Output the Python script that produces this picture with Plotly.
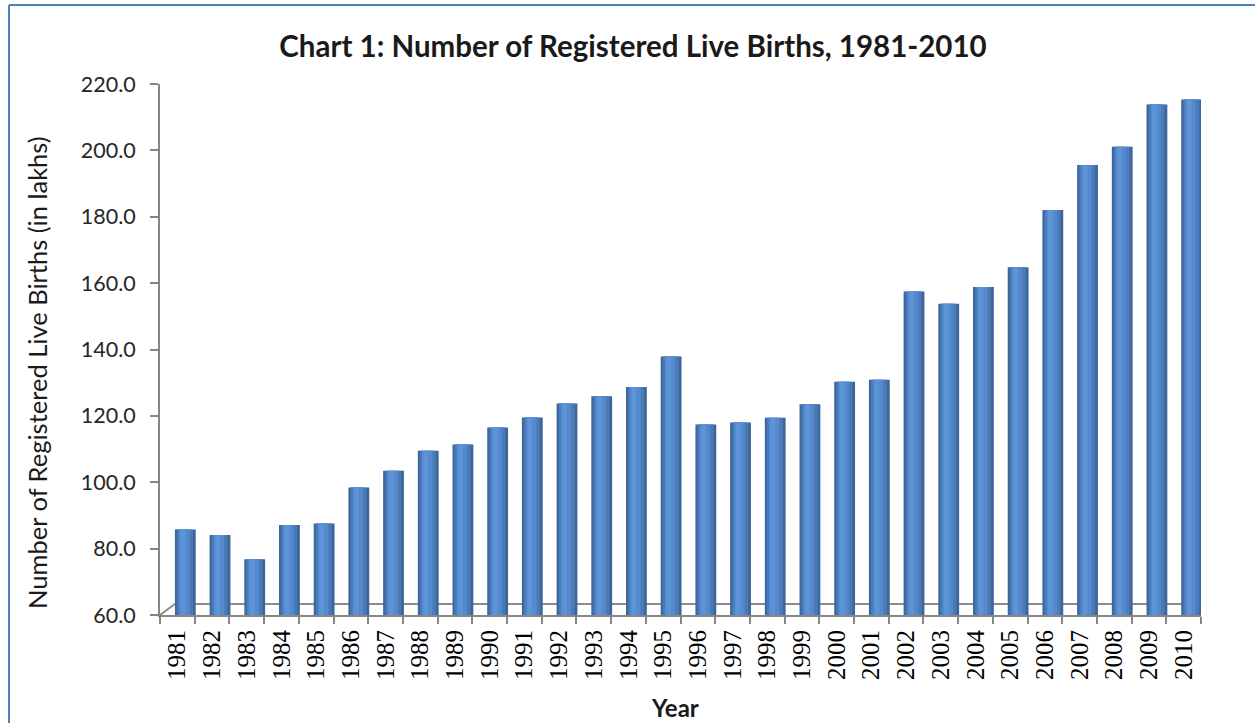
import plotly.graph_objects as go

years = [str(y) for y in range(1981, 2011)]
births = [85.8, 84.1, 76.8, 87.1, 87.6, 98.4, 103.5, 109.5, 111.4, 116.5,
          119.5, 123.7, 125.9, 128.7, 137.9, 117.4, 118.0, 119.4, 123.5, 130.3,
          130.9, 157.5, 153.8, 158.8, 164.8, 182.0, 195.6, 201.1, 213.8, 215.3]

title_text = "Chart 1: Number of Registered Live Births, 1981-2010"
y_title = "Number of Registered Live Births (in lakhs)"
x_title = "Year"

W, H = 1255, 723
L, R, T, B = 160, 54, 84, 108
pw, ph = W - L - R, H - T - B

def px_x(px):
    return (px - L) / pw

def px_y(py):
    return (H - B - py) / ph

fig = go.Figure()
# cylinder-like shading with layered bars of the same values
layers = [
    (0.60, -0.07, "#3D679B"),
    (0.46, -0.01, "#4A7AB8"),
    (0.30, 0.05, "#548ACD"),
    (0.14, 0.09, "#5D94D8"),
]
for w, off, col in layers:
    fig.add_trace(go.Bar(
        x=years, y=births, width=w, offset=off,
        marker=dict(color=col, line=dict(width=0)),
        showlegend=False, hoverinfo="x+y",
    ))

axis_grey = "#868686"
fig.update_layout(
    width=W, height=H,
    margin=dict(l=L, r=R, t=T, b=B, autoexpand=False),
    paper_bgcolor="white", plot_bgcolor="white",
    barmode="overlay",
    title=dict(text=title_text, x=633 / W, xanchor="center", y=1 - 47 / H, yanchor="middle",
               font=dict(family="Lato", size=29.5, color="#1a1a1a", weight="bold")),
    yaxis=dict(range=[60, 220], dtick=20, tickformat=".1f", showgrid=False, zeroline=False,
               showline=True, linecolor=axis_grey, linewidth=2,
               ticks="outside", ticklen=8, tickcolor=axis_grey, tickwidth=2,
               ticklabelstandoff=10,
               tickfont=dict(family="Lato", size=21.5, color="#262626")),
    xaxis=dict(type="category", range=[-0.5, 29.5], showgrid=False, zeroline=False,
               showline=True, linecolor=axis_grey, linewidth=2,
               ticks="outside", ticklen=7, tickcolor=axis_grey, tickwidth=2,
               tickson="boundaries", tickangle=-90, ticklabelstandoff=3,
               tickfont=dict(family="Liberation Serif", size=25, color="#000000")),
)

# 3D floor outline (back edge and sides)
floor_col = "#8c8c8c"
back_y = 63.3
fig.add_shape(type="line", xref="x", yref="y", x0=-0.07, x1=29.99, y0=back_y, y1=back_y,
              line=dict(color=floor_col, width=2), layer="below")
fig.add_shape(type="line", xref="x", yref="y", x0=-0.5, x1=-0.07, y0=60, y1=back_y,
              line=dict(color=floor_col, width=2), layer="below")
fig.add_shape(type="line", xref="x", yref="y", x0=29.5, x1=29.99, y0=60, y1=back_y,
              line=dict(color=floor_col, width=2), layer="below")

# frame lines (left and top)
frame_col = "#4F81BD"
fig.add_shape(type="line", xref="paper", yref="paper", x0=px_x(9), x1=px_x(9),
              y0=px_y(5), y1=px_y(723), line=dict(color=frame_col, width=2))
fig.add_shape(type="line", xref="paper", yref="paper", x0=px_x(9), x1=px_x(1255),
              y0=px_y(5), y1=px_y(5), line=dict(color=frame_col, width=2))

# axis titles
fig.add_annotation(text=y_title, xref="paper", yref="paper", x=px_x(37), y=px_y(373),
                   textangle=-90, showarrow=False, xanchor="center", yanchor="middle",
                   font=dict(family="Lato", size=25.5, color="#1a1a1a"))
fig.add_annotation(text=x_title, xref="paper", yref="paper", x=px_x(675), y=px_y(707),
                   showarrow=False, xanchor="center", yanchor="middle",
                   font=dict(family="Lato", size=24, color="#1a1a1a", weight="bold"))

fig.write_html("out.html", config={"displayModeBar": False},
               post_script="document.body.style.margin='0';")
